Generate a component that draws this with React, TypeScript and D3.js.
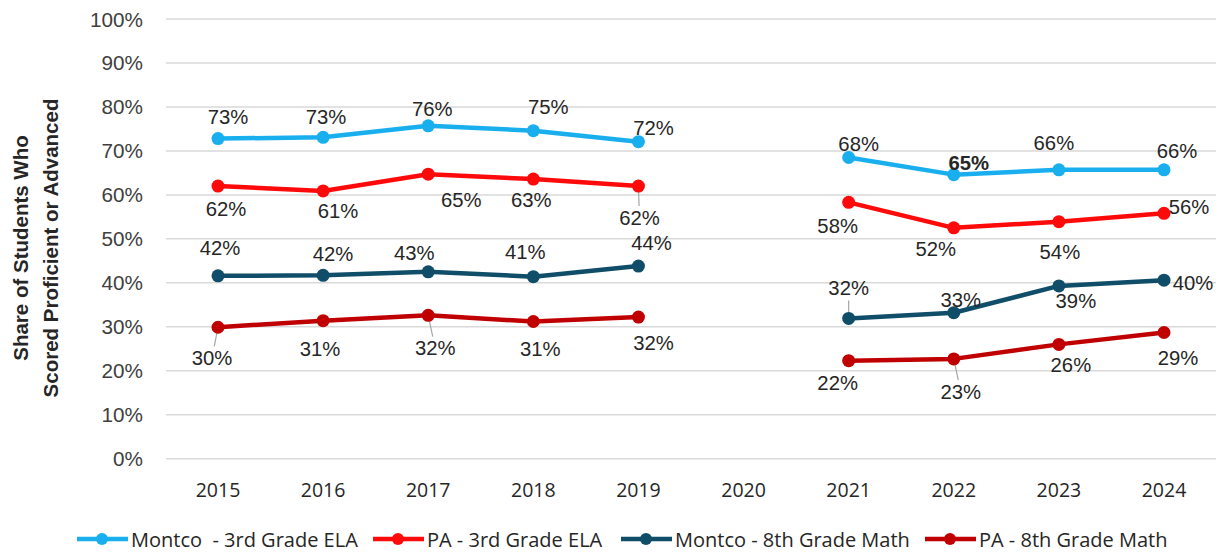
import React, { useEffect, useRef } from "react";
import * as d3 from "d3";

const years = ["2015", "2016", "2017", "2018", "2019", "2020", "2021", "2022", "2023", "2024"];
const yTicks = [0, 0.1, 0.2, 0.3, 0.4, 0.5, 0.6, 0.7, 0.8, 0.9, 1.0];

const montcoELA = [0.728, 0.731, 0.757, 0.746, 0.721, null, 0.685, 0.646, 0.657, 0.657];
const paELA = [0.620, 0.609, 0.647, 0.636, 0.620, null, 0.583, 0.525, 0.539, 0.558];
const montcoMath = [0.416, 0.417, 0.425, 0.414, 0.438, null, 0.319, 0.332, 0.393, 0.406];
const paMath = [0.299, 0.314, 0.326, 0.312, 0.322, null, 0.223, 0.227, 0.260, 0.287];

const montcoELALabels = ["73%", "73%", "76%", "75%", "72%", "", "68%", "65%", "66%", "66%"];
const paELALabels = ["62%", "61%", "65%", "63%", "62%", "", "58%", "52%", "54%", "56%"];
const montcoMathLabels = ["42%", "42%", "43%", "41%", "44%", "", "32%", "33%", "39%", "40%"];
const paMathLabels = ["30%", "31%", "32%", "31%", "32%", "", "22%", "23%", "26%", "29%"];

const seriesNames = [
  "Montco  - 3rd Grade ELA",
  "PA - 3rd Grade ELA",
  "Montco - 8th Grade Math",
  "PA - 8th Grade Math",
];

// layout / style (not data)
const colors = ["#19AFEF", "#FF0A0A", "#0F4D69", "#C00000"];
const legendX = [77, 373, 621, 925];
const labelOffsets = [
  [[10, -22], [3, -20], [4, -17], [15, -24], [15, -14], [0, 0], [10, -14], [15, -12], [-5, -27], [13, -19]],
  [[8, 23], [15, 20], [33, 26], [-2, 21], [1, 32], [0, 0], [-11, 24], [-18, 21], [1, 30], [25, -6]],
  [[2, -28], [10, -21], [-14, -19], [-8, -25], [13, -23], [0, 0], [0, -30], [7, -13], [17, 15], [29, 3]],
  [[-6, 31], [-3, 28], [7, 33], [7, 27], [15, 26], [0, 0], [-11, 22], [7, 33], [12, 21], [14, 25]],
];
const leaders: [number, number][] = [[3, 0], [3, 2], [1, 4], [2, 6], [3, 7]];
const boldLabels: [number, number][] = [[0, 7]];

export default function App() {
  const ref = useRef<SVGSVGElement>(null);

  useEffect(() => {
    const svg = d3.select(ref.current);
    svg.selectAll("*").remove();
    const W = 1218, H = 552;
    const x = d3.scalePoint<string>().domain(years).range([218, 1164]);
    const y = d3.scaleLinear().domain([0, 1]).range([458.7, 19]);

    svg.append("rect").attr("width", W).attr("height", H).attr("fill", "#fff");

    // gridlines
    svg.append("g").selectAll("line").data(yTicks).join("line")
      .attr("x1", 166).attr("x2", 1216)
      .attr("y1", (d) => y(d)).attr("y2", (d) => y(d))
      .attr("stroke", "#d9d9d9").attr("stroke-width", 1.5);

    // y tick labels
    svg.append("g").selectAll("text").data(yTicks).join("text")
      .attr("x", 143).attr("y", (d) => y(d))
      .attr("text-anchor", "end").attr("dominant-baseline", "central")
      .attr("font-family", "'Liberation Sans', Arial, sans-serif")
      .attr("font-size", 20.7).attr("fill", "#404040")
      .text((d) => d3.format(".0%")(d));

    // x tick labels
    svg.append("g").selectAll("text").data(years).join("text")
      .attr("x", (d) => x(d)!).attr("y", 489)
      .attr("text-anchor", "middle").attr("dominant-baseline", "central")
      .attr("font-family", "'Open Sans', sans-serif")
      .attr("font-size", 19.5).attr("fill", "#262626")
      .text((d) => d);

    // y axis title
    const yt = svg.append("g").attr("transform", "translate(0,248) rotate(-90)");
    [["Share of Students Who", 20], ["Scored Proficient or Advanced", 50]].forEach(([t, cx]) => {
      yt.append("text").attr("x", 0).attr("y", cx as number)
        .attr("text-anchor", "middle").attr("dominant-baseline", "central")
        .attr("font-family", "'Liberation Sans', Arial, sans-serif")
        .attr("font-weight", "bold").attr("font-size", 20.5).attr("fill", "#262626")
        .text(t as string);
    });

    const allSeries = [montcoELA, paELA, montcoMath, paMath];
    const allLabels = [montcoELALabels, paELALabels, montcoMathLabels, paMathLabels];

    const line = d3.line<number | null>()
      .defined((d) => d !== null)
      .x((_, i) => x(years[i])!)
      .y((d) => y(d as number));

    // leader lines
    const lg = svg.append("g");
    leaders.forEach(([s, i]) => {
      const v = allSeries[s][i] as number;
      const px = x(years[i])!, py = y(v);
      const [dx, dy] = labelOffsets[s][i];
      const len = Math.hypot(dx, dy);
      const ux = dx / len, uy = dy / len;
      lg.append("line")
        .attr("x1", px + ux * 3).attr("y1", py + uy * 3)
        .attr("x2", px + ux * (len - 12)).attr("y2", py + uy * (len - 12))
        .attr("stroke", "#a6a6a6").attr("stroke-width", 1.2);
    });

    allSeries.forEach((data, s) => {
      const g = svg.append("g");
      g.append("path").datum(data).attr("d", line)
        .attr("fill", "none").attr("stroke", colors[s])
        .attr("stroke-width", 4.5).attr("stroke-linejoin", "round");
      g.selectAll("circle").data(data.map((d, i) => ({ d, i })).filter((o) => o.d !== null))
        .join("circle")
        .attr("cx", (o) => x(years[o.i])!).attr("cy", (o) => y(o.d as number))
        .attr("r", 6.5).attr("fill", colors[s]);
    });

    allSeries.forEach((data, s) => {
      const g = svg.append("g");
      data.forEach((d, i) => {
        if (d === null) return;
        const [dx, dy] = labelOffsets[s][i];
        const bold = boldLabels.some(([bs, bi]) => bs === s && bi === i);
        g.append("text")
          .attr("x", x(years[i])! + dx).attr("y", y(d) + dy)
          .attr("text-anchor", "middle").attr("dominant-baseline", "central")
          .attr("font-family", "'Liberation Sans', Arial, sans-serif")
          .attr("font-size", 20.3).attr("fill", "#262626")
          .attr("font-weight", bold ? "bold" : "normal")
          .text(allLabels[s][i]);
      });
    });

    // legend
    const leg = svg.append("g").attr("transform", "translate(0,539)");
    seriesNames.forEach((name, s) => {
      const item = leg.append("g").attr("transform", `translate(${legendX[s]},0)`);
      item.append("line").attr("x1", 0).attr("x2", 51).attr("y1", 0).attr("y2", 0)
        .attr("stroke", colors[s]).attr("stroke-width", 4.5);
      item.append("circle").attr("cx", 25).attr("cy", 0).attr("r", 6).attr("fill", colors[s]);
      item.append("text").attr("x", 54).attr("y", 0)
        .attr("dominant-baseline", "central")
        .attr("xml:space", "preserve")
        .style("white-space", "pre")
        .attr("font-family", "'Open Sans', sans-serif")
        .attr("font-size", 20).attr("fill", "#262626")
        .text(name);
    });
  }, []);

  return (
    <svg ref={ref} width={1218} height={552}
      style={{ position: "absolute", left: 0, top: 0, display: "block" }} />
  );
}
